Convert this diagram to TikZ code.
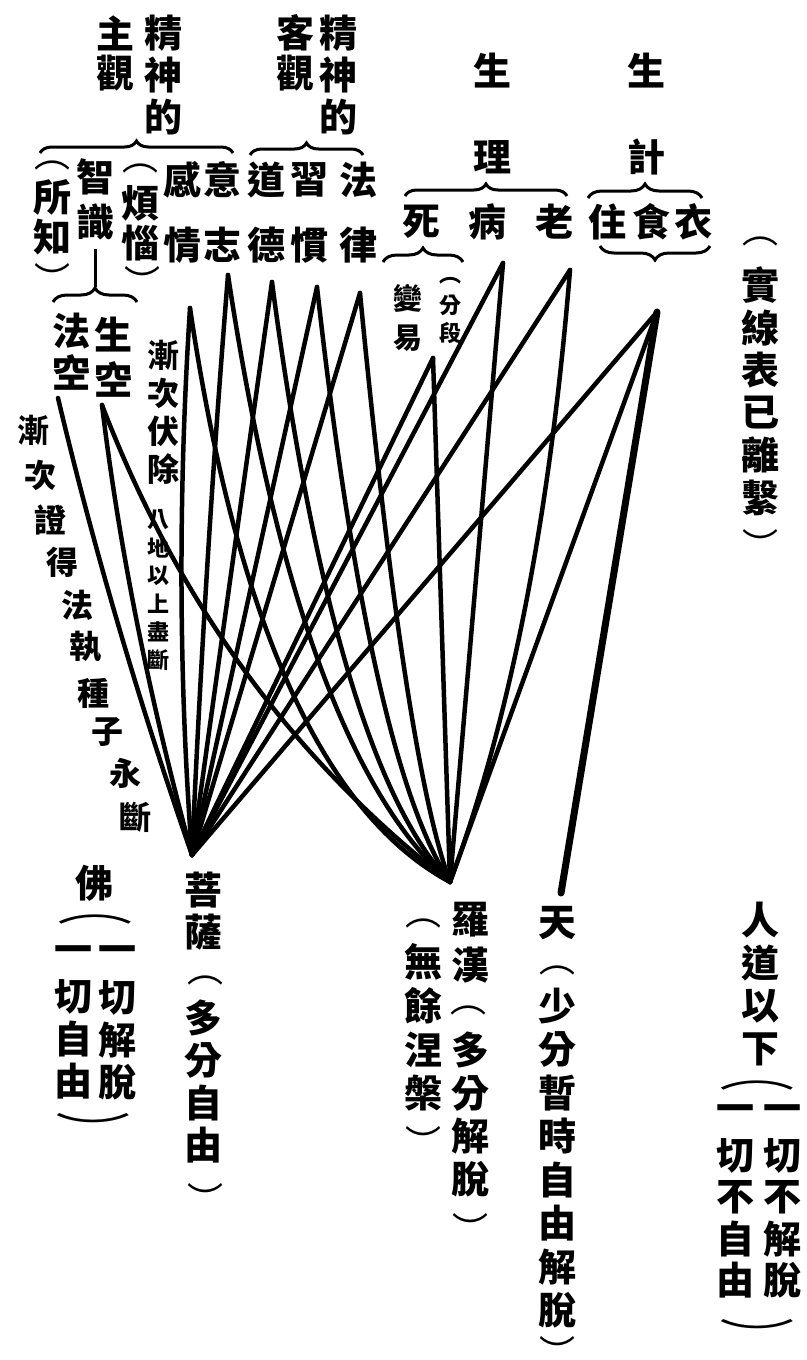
\documentclass[tikz,border=0pt]{standalone}
\usepackage{graphicx}
\usepackage{fontspec}
\newfontfamily\cjk{Noto Sans CJK TC}
\usetikzlibrary{decorations.pathreplacing,calc}
\tikzset{
  chr/.style={inner sep=0pt, font=\cjk\bfseries\fontsize{38}{38}\selectfont},
  hand/.style={inner sep=0pt, font=\cjk\bfseries\fontsize{32}{32}\selectfont},
  small/.style={inner sep=0pt, font=\cjk\bfseries\fontsize{29}{29}\selectfont},
  tiny/.style={inner sep=0pt, font=\cjk\bfseries\fontsize{22}{22}\selectfont},
  paren/.style={inner sep=0pt, font=\cjk\fontsize{36}{36}\selectfont},
  brc/.style={decorate, decoration={brace, amplitude=#1}, line width=3pt},
  brc/.default=12,
  ln/.style={line width=4.5pt, line cap=round},
  thick line/.style={line width=7pt, line cap=round},
}
\newcommand{\vcol}[6][chr]{\foreach \ch [count=\k from 0] in {#6} {\node[#1] (#2-\k) at (#3,{#4+#5*\k}) {\ch};}}
\newcommand{\qline}[4][ln]{\draw[#1] (#2) .. controls ($(#2)!0.667!(#3)$) and ($(#4)!0.667!(#3)$) .. (#4);}
\begin{document}
\begin{tikzpicture}[x=1pt,y=-1pt]
\useasboundingbox (0,0) rectangle (806,1360);
% ---------- connector ends ----------
\coordinate (B) at (192,855);
\coordinate (R) at (450,882);
\coordinate (TE) at (561,893);
\coordinate (FK) at (58,398);
\coordinate (SK) at (102,405);
\coordinate (T1) at (190,308);
\coordinate (T2) at (228,275);
\coordinate (T3) at (272,282);
\coordinate (T4) at (317,287);
\coordinate (T5) at (360,293);
\coordinate (D) at (433,358);
\coordinate (O) at (503,263);
\coordinate (P) at (570,270);
\coordinate (F) at (657,312);
% ---------- lines to 菩薩 ----------
\qline{FK}{112,625}{B}
\qline{SK}{128,620}{B}
\qline{T1}{172,590}{B}
\qline{T2}{205,560}{B}
\qline{T3}{232,565}{B}
\draw[ln] (T4) -- (B);
\draw[ln] (T5) -- (B);
\draw[ln] (D) -- (B);
\draw[ln] (O) -- (B);
\draw[ln] (P) -- (B);
\draw[ln] (F) -- (B);
% ---------- lines to 羅漢 ----------
\qline{SK}{215,700}{R}
\qline{T1}{260,780}{R}
\qline{T2}{300,750}{R}
\qline{T3}{335,760}{R}
\qline{T4}{370,760}{R}
\qline{T5}{405,760}{R}
\draw[ln] (D) -- (R);
\draw[ln] (O) -- (R);
\qline{P}{540,640}{R}
\draw[ln] (F) -- (R);
% ---------- line to 天 ----------
\draw[thick line] (F) -- (TE);
% ---------- braces ----------
\draw[brc=12] (40,153) -- (233,153);
\draw[brc=12] (250,155) -- (363,155);
\draw[brc=12] (405,196) -- (567,196);
\draw[brc=14] (588,198) -- (702,198);
\draw[brc=14] (710,246) -- (600,246);
\draw[brc=14] (383,262) -- (463,262);
\draw[brc=14] (53,302) -- (137,302);
\coordinate (zl1) at (95,249);
\coordinate (zl2) at (95,287);
\draw[line width=3pt] (zl1) -- (zl2);
% ---------- top texts ----------
\vcol{zhu}{115}{33}{40}{主,觀}
\vcol{jsa}{163}{33}{42}{精,神,的}
\vcol{ke}{295}{33}{40}{客,觀}
\vcol{jsb}{338}{33}{42}{精,神,的}
\node[chr] (sheng1) at (492,71) {生};
\node[chr] (li) at (492,157) {理};
\node[chr] (sheng2) at (646,71) {生};
\node[chr] (ji) at (646,157) {計};
\vcol{gan}{182}{180}{65}{感,情}
\vcol{yi}{222}{180}{65}{意,志}
\vcol{dao}{266}{180}{65}{道,德}
\vcol{xi}{309}{180}{65}{習,慣}
\vcol{fa}{358}{180}{65}{法,律}
\vcol{zhi}{95}{177}{45}{智,識}
\node[paren] (suoL) at (52,165) {︵};
\vcol{suo}{52}{197}{40}{所,知}
\node[paren] (suoR) at (52,278) {︶};
\node[paren] (fanL) at (140,168) {︵};
\vcol{fan}{140}{203}{40}{煩,惱}
\node[paren] (fanR) at (142,281) {︶};
\node[chr] (si) at (421,222) {死};
\node[chr] (bing) at (487,222) {病};
\node[chr] (lao) at (554,222) {老};
\node[chr] (zhu2) at (607,222) {住};
\node[chr] (shi) at (651,222) {食};
\node[chr] (yi2) at (693,222) {衣};
\vcol{fk}{71}{331}{41}{法,空}
\vcol{sk}{113}{335}{44}{生,空}
% ---------- handwritten notes ----------
\vcol[hand]{jc}{163}{355}{38}{漸,次,伏,除}
\vcol[tiny]{bd}{158}{520}{28}{八,地,以,上,盡,斷}
\node[hand] (h0) at (33,430) {漸};
\node[hand] (h1) at (40,475) {次};
\node[hand] (h2) at (50,520) {證};
\node[hand] (h3) at (62,562) {得};
\node[hand] (h4) at (77,605) {法};
\node[hand] (h5) at (85,647) {執};
\node[hand] (h6) at (93,693) {種};
\node[hand] (h7) at (107,732) {子};
\node[hand] (h8) at (125,773) {永};
\node[hand] (h9) at (135,817) {斷};
\vcol[small]{by}{408}{298}{40}{變,易}
\node[tiny] (fdL) at (450,281) {︵};
\vcol[tiny]{fd}{450}{305}{28}{分,段}
% ---------- right note ----------
\node[paren] (sxL) at (760,241) {︵};
\vcol{sx}{760}{285}{42.6}{實,線,表,已,離,繫}
\node[paren] (sxR) at (760,544) {︶};
% ---------- bottom labels ----------
\node[chr] (fo) at (94,883) {佛};
\node[paren] (foL) at (95,919) {\scalebox{2.1}[1]{︵}};
\vcol{foa}{117}{955}{42.5}{一,切,解,脫}
\vcol{fob}{73}{955}{42}{一,切,自,由}
\node[paren] (foR) at (93,1128) {\scalebox{2.1}[1]{︶}};
\vcol{ps}{203}{890}{42}{菩,薩}
\node[paren] (psL) at (205,980) {︵};
\vcol{psb}{203}{1018}{42.3}{多,分,自,由}
\node[paren] (psR) at (205,1198) {︶};
\vcol{lh}{470}{920}{45}{羅,漢}
\node[paren] (lhL) at (468,1010) {︵};
\vcol{lhb}{470}{1050}{43}{多,分,解,脫}
\node[paren] (lhR) at (470,1228) {︶};
\node[paren] (wyL) at (423,923) {︵};
\vcol{wy}{423}{962}{43.7}{無,餘,涅,槃}
\node[paren] (wyR) at (423,1141) {︶};
\node[chr] (tian) at (557,923) {天};
\node[paren] (tnL) at (557,970) {︵};
\vcol{tn}{557}{1006}{43.5}{少,分,暫,時,自,由,解,脫}
\node[paren] (tnR) at (557,1351) {︶};
\vcol{rd}{760}{920}{43}{人,道,以,下}
\node[paren] (rdL) at (757,1085) {\scalebox{2.1}[1]{︵}};
\vcol{rda}{782}{1114}{41.6}{一,切,不,解,脫}
\vcol{rdb}{735}{1114}{41.6}{一,切,不,自,由}
\node[paren] (rdR) at (757,1334) {\scalebox{2.1}[1]{︶}};
\end{tikzpicture}
\end{document}
